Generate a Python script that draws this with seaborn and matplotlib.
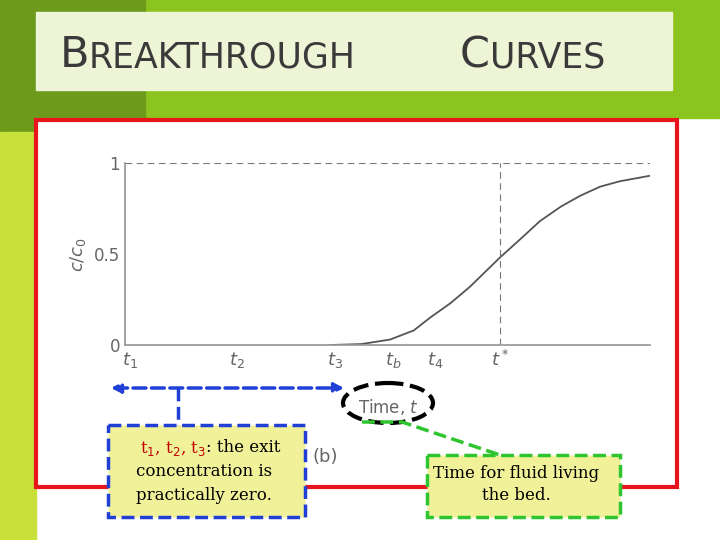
import matplotlib
matplotlib.use("Agg")
import matplotlib.pyplot as plt
from matplotlib.patches import Rectangle, Ellipse, FancyArrowPatch
import seaborn as sns
import pandas as pd

sns.set_theme(style="white")
plt.rcParams['font.family'] = ['DejaVu Sans']

time_vals = [3.9, 4.5, 5.05, 5.5, 5.81, 6.2, 6.57, 7.14, 7.6, 7.9, 8.3, 8.67, 9.05, 9.43, 10.0]
conc_vals = [0.0, 0.005, 0.03, 0.08, 0.15, 0.23, 0.32, 0.48, 0.6, 0.68, 0.76, 0.82, 0.87, 0.9, 0.93]
tick_pos = [0.1, 2.13, 4.0, 5.1, 5.9, 7.14]
tick_labels = ["$t_1$", "$t_2$", "$t_3$", "$t_b$", "$t_4$", "$t^*$"]
ytick_pos = [0, 0.5, 1]
ytick_labels = ["0", "0.5", "1"]

fig = plt.figure(figsize=(7.2, 5.4), dpi=100)
bg = fig.add_axes([0, 0, 1, 1])
bg.set_xlim(0, 720); bg.set_ylim(540, 0); bg.axis("off")
bg.add_patch(Rectangle((145, 0), 575, 118, color="#8cc41f"))
bg.add_patch(Rectangle((0, 0), 145, 132, color="#6e9a1c"))
bg.add_patch(Rectangle((0, 132), 36, 408, color="#c9e03a"))
bg.add_patch(Rectangle((36, 12), 636, 78, color="#eef5d6"))
bg.text(60, 55, "B", fontsize=31, color="#3a3a3a", va="center")
bg.text(89, 58, "REAKTHROUGH", fontsize=25, color="#3a3a3a", va="center")
bg.text(460, 55, "C", fontsize=31, color="#3a3a3a", va="center")
bg.text(490, 58, "URVES", fontsize=25, color="#3a3a3a", va="center")
bg.add_patch(Rectangle((36, 120), 641, 367, facecolor="white", edgecolor="#e8141b", lw=3))

ax = fig.add_axes([125/720, 195/540, 525/720, 182/540])
df = pd.DataFrame({"t": time_vals, "c": conc_vals})
sns.lineplot(data=df, x="t", y="c", ax=ax, color="#555555", lw=1.3)
ax.axhline(1, xmin=0, xmax=1, color="#777777", ls=(0, (6, 4)), lw=0.8)
ax.plot([7.14, 7.14], [0, 1], color="#777777", ls=(0, (6, 4)), lw=0.8)
ax.plot([0, 3.9], [0, 0], color="#777777", lw=0.8)
ax.set_xlim(0, 10); ax.set_ylim(0, 1.0)
for s in ["top", "right"]:
    ax.spines[s].set_visible(False)
for s in ["left", "bottom"]:
    ax.spines[s].set_color("#999999")
ax.set_xticks(tick_pos); ax.set_xticklabels(tick_labels, fontsize=13, color="#666666")
ax.set_yticks(ytick_pos); ax.set_yticklabels(ytick_labels, fontsize=12, color="#666666")
ax.set_xlabel(""); ax.set_ylabel("$c/c_0$", fontsize=13, color="#666666")
ax.tick_params(length=0)

ov = fig.add_axes([0, 0, 1, 1], facecolor="none")
ov.set_xlim(0, 720); ov.set_ylim(540, 0); ov.axis("off")
ov.text(388, 407, "Time, $t$", fontsize=12, color="#666666", ha="center", va="center")
ov.text(325, 457, "(b)", fontsize=13, color="#666666", ha="center", va="center")
ov.add_patch(FancyArrowPatch((108, 388), (347, 388), arrowstyle="<|-|>", mutation_scale=14,
                             color="#1f3fd6", ls="--", lw=2.5))
ov.plot([178, 178], [388, 425], color="#1f3fd6", ls="--", lw=2.5)
ov.add_patch(Rectangle((108, 425), 197, 92, facecolor="#f1f19a", edgecolor="#1f3fd6", ls="--", lw=2.5))
ov.text(206, 448, "t$_1$, t$_2$, t$_3$", fontsize=12, color="#c00000", ha="right", va="center", family="serif")
ov.text(206, 448, ": the exit", fontsize=12, color="black", ha="left", va="center", family="serif")
ov.text(204, 472, "concentration is", fontsize=12, color="black", ha="center", va="center", family="serif")
ov.text(204, 496, "practically zero.", fontsize=12, color="black", ha="center", va="center", family="serif")
ov.add_patch(Ellipse((388, 403), 90, 40, fill=False, edgecolor="black", ls="--", lw=3))
ov.plot([362, 402, 500], [422, 422, 455], color="#2ec52e", ls="--", lw=2.5)
ov.add_patch(Rectangle((427, 455), 193, 62, facecolor="#f1f19a", edgecolor="#2ec52e", ls="--", lw=2.5))
ov.text(516, 473, "Time for fluid living", fontsize=12, color="black", ha="center", va="center", family="serif")
ov.text(516, 496, "the bed.", fontsize=12, color="black", ha="center", va="center", family="serif")

fig.savefig("out.png", dpi=100)
